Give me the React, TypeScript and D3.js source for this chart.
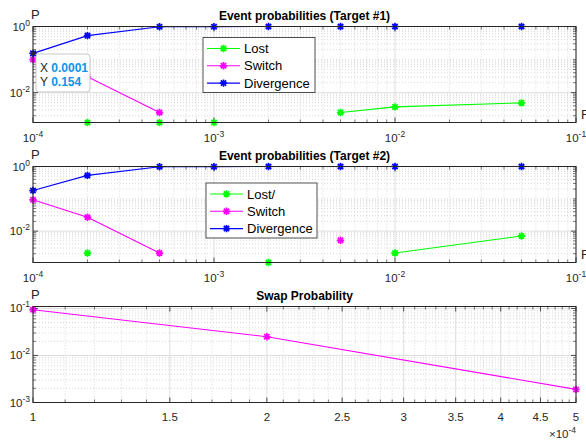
import * as d3 from 'd3';

// threshold values shared by the two "event" panels
const thresholds = [1e-4, 2e-4, 5e-4, 1e-3, 2e-3, 5e-3, 1e-2, 5e-2];

// Target #1
const lost1 = [NaN, 0.00125, 0.00125, 0.00125, NaN, 0.0025, 0.0037, 0.0049];
const switch1 = [0.1, 0.03, 0.0025, NaN, NaN, NaN, NaN, NaN];
const diverg1 = [0.154, 0.53, 0.98, 0.99, 1, 1, 1, 1];

// Target #2
const lost2 = [NaN, 0.0021, NaN, NaN, 0.00107, NaN, 0.0021, 0.0071];
const switch2 = [0.093, 0.027, 0.0021, NaN, NaN, 0.0052, NaN, NaN];
const diverg2 = [0.18, 0.53, 0.98, 0.99, 1, 1, 1, 1];

// swap panel
const swapX = [1e-4, 2e-4, 5e-4];
const swapP = [0.094, 0.025, 0.0019];
const swapTicks = [1, 1.5, 2, 2.5, 3, 3.5, 4, 4.5, 5];

const W = 586, H = 441;
const L = 33, R = 576;
const FONT = '"Liberation Sans", Arial, Helvetica, sans-serif';
const AX = '#262626';
const GRID = '#dedede';
const MINOR = '#c0c0c0';

const GREEN = '#00ff00', MAGENTA = '#ff00ff', BLUE = '#0000ff';

function Star({ x, y, color }: { x: number; y: number; color: string }) {
  const r = 3.7, d = r * 0.72;
  return (
    <path
      d={`M${x - r},${y}H${x + r}M${x},${y - r}V${y + r}M${x - d},${y - d}L${x + d},${y + d}M${x - d},${y + d}L${x + d},${y - d}`}
      stroke={color}
      strokeWidth={1.7}
      fill="none"
    />
  );
}

function Pow({ x, y, exp, anchor }: { x: number; y: number; exp: number; anchor: 'middle' | 'end' }) {
  return (
    <text x={x} y={y} textAnchor={anchor} fontSize={11.5} fill={AX} fontFamily={FONT}>
      10<tspan dy={-5} fontSize={8.5}>{exp}</tspan>
    </text>
  );
}

function minorsLog(lo: number, hi: number) {
  const out: number[] = [];
  for (let e = Math.floor(Math.log10(lo)); e <= Math.ceil(Math.log10(hi)); e++) {
    for (let m = 1; m <= 9; m++) {
      const v = m * Math.pow(10, e);
      if (v > lo * 1.0001 && v < hi * 0.9999) out.push(v);
    }
  }
  return out;
}

interface Series { vals: number[]; color: string; }

function EventPanel({ top, yMin, title, series, legend, legendBox }: {
  top: number; yMin: number; title: string; series: Series[];
  legend: string[]; legendBox: { x: number; y: number; w: number; h: number };
}) {
  const bottom = top + 96;
  const x = d3.scaleLog().domain([1e-4, 1e-1]).range([L, R]);
  const y = d3.scaleLog().domain([yMin, 1]).range([bottom, top]);
  const xMajor = [1e-4, 1e-3, 1e-2, 1e-1];
  const xMinor = minorsLog(1e-4, 1e-1).filter(v => !xMajor.some(m => Math.abs(m - v) / m < 1e-6));
  const yMajor = [1e-2, 1];
  const yMinor = minorsLog(yMin, 1).filter(v => !yMajor.some(m => Math.abs(m - v) / m < 1e-6));
  const line = d3.line<number>()
    .defined(d => !isNaN(d))
    .x((_, i) => x(thresholds[i]))
    .y(d => y(d));
  return (
    <g>
      {xMinor.map((v, i) => (
        <line key={'xm' + i} x1={x(v)} x2={x(v)} y1={top} y2={bottom} stroke={MINOR} strokeWidth={0.6} strokeDasharray="1 2" />
      ))}
      {yMinor.map((v, i) => (
        <line key={'ym' + i} x1={L} x2={R} y1={y(v)} y2={y(v)} stroke={MINOR} strokeWidth={0.6} strokeDasharray="1 2" />
      ))}
      {xMajor.map((v, i) => (
        <line key={'xg' + i} x1={x(v)} x2={x(v)} y1={top} y2={bottom} stroke={GRID} strokeWidth={1} />
      ))}
      {yMajor.map((v, i) => (
        <line key={'yg' + i} x1={L} x2={R} y1={y(v)} y2={y(v)} stroke={GRID} strokeWidth={1} />
      ))}
      {/* ticks */}
      {xMinor.map((v, i) => (
        <g key={'xt' + i} stroke={AX} strokeWidth={0.6}>
          <line x1={x(v)} x2={x(v)} y1={bottom} y2={bottom - 3} />
          <line x1={x(v)} x2={x(v)} y1={top} y2={top + 3} />
        </g>
      ))}
      {xMajor.map((v, i) => (
        <g key={'xT' + i} stroke={AX} strokeWidth={0.8}>
          <line x1={x(v)} x2={x(v)} y1={bottom} y2={bottom - 5} />
          <line x1={x(v)} x2={x(v)} y1={top} y2={top + 5} />
        </g>
      ))}
      {yMinor.map((v, i) => (
        <g key={'yt' + i} stroke={AX} strokeWidth={0.6}>
          <line x1={L} x2={L + 3} y1={y(v)} y2={y(v)} />
          <line x1={R} x2={R - 3} y1={y(v)} y2={y(v)} />
        </g>
      ))}
      {yMajor.map((v, i) => (
        <g key={'yT' + i} stroke={AX} strokeWidth={0.8}>
          <line x1={L} x2={L + 5} y1={y(v)} y2={y(v)} />
          <line x1={R} x2={R - 5} y1={y(v)} y2={y(v)} />
        </g>
      ))}
      {series.map((s, si) => (
        <g key={'s' + si}>
          <path d={line(s.vals) || ''} fill="none" stroke={s.color} strokeWidth={1.1} />
          {s.vals.map((v, i) => isNaN(v) ? null : <Star key={i} x={x(thresholds[i])} y={y(v)} color={s.color} />)}
        </g>
      ))}
      <rect x={L} y={top} width={R - L} height={bottom - top} fill="none" stroke={AX} strokeWidth={1} />
      {xMajor.map((v, i) => (
        <Pow key={'xl' + i} x={x(v)} y={bottom + 19} exp={Math.round(Math.log10(v))} anchor="middle" />
      ))}
      {yMajor.map((v, i) => (
        <Pow key={'yl' + i} x={L - 3} y={y(v) + 4} exp={Math.round(Math.log10(v))} anchor="end" />
      ))}
      <text x={L - 2} y={top - 8} fontSize={13} fontFamily={FONT} fill={AX}>P</text>
      <text x={581} y={bottom - 4} fontSize={13} fontFamily={FONT} fill={AX}>F</text>
      <text x={(L + R) / 2} y={top - 7} textAnchor="middle" fontSize={12} fontWeight="bold" fontFamily={FONT} fill="#000">{title}</text>
      {/* legend */}
      <rect x={legendBox.x} y={legendBox.y} width={legendBox.w} height={legendBox.h} fill="#fff" stroke={AX} strokeWidth={0.8} />
      {legend.map((name, i) => {
        const ly = legendBox.y + 11 + i * 17.3;
        const lx = legendBox.x + 4;
        return (
          <g key={'lg' + i}>
            <line x1={lx} x2={lx + 33} y1={ly} y2={ly} stroke={series[i].color} strokeWidth={1.1} />
            <Star x={lx + 16.5} y={ly} color={series[i].color} />
            <text x={lx + 37} y={ly + 4.5} fontSize={13} fontFamily={FONT} fill="#000">{name}</text>
          </g>
        );
      })}
    </g>
  );
}

function SwapPanel({ top }: { top: number }) {
  const bottom = top + 96;
  const x = d3.scaleLog().domain([1e-4, 5e-4]).range([L, R]);
  const y = d3.scaleLog().domain([1e-3, 0.11]).range([bottom, top]);
  const xMajor = swapTicks.map(t => t * 1e-4);
  const xMinor: number[] = [];
  for (let k = 11; k < 50; k++) if (k % 5 !== 0) xMinor.push(k * 1e-5);
  const yMajor = [1e-3, 1e-2, 1e-1];
  const yMinor = minorsLog(1e-3, 0.11).filter(v => !yMajor.some(m => Math.abs(m - v) / m < 1e-6));
  const line = d3.line<number>().x((_, i) => x(swapX[i])).y(d => y(d));
  return (
    <g>
      {xMinor.map((v, i) => (
        <line key={'xm' + i} x1={x(v)} x2={x(v)} y1={top} y2={bottom} stroke={MINOR} strokeWidth={0.6} strokeDasharray="1 2" />
      ))}
      {yMinor.map((v, i) => (
        <line key={'ym' + i} x1={L} x2={R} y1={y(v)} y2={y(v)} stroke={MINOR} strokeWidth={0.6} strokeDasharray="1 2" />
      ))}
      {xMajor.map((v, i) => (
        <line key={'xg' + i} x1={x(v)} x2={x(v)} y1={top} y2={bottom} stroke={GRID} strokeWidth={1} />
      ))}
      {yMajor.map((v, i) => (
        <line key={'yg' + i} x1={L} x2={R} y1={y(v)} y2={y(v)} stroke={GRID} strokeWidth={1} />
      ))}
      {xMinor.map((v, i) => (
        <g key={'xt' + i} stroke={AX} strokeWidth={0.6}>
          <line x1={x(v)} x2={x(v)} y1={bottom} y2={bottom - 3} />
          <line x1={x(v)} x2={x(v)} y1={top} y2={top + 3} />
        </g>
      ))}
      {xMajor.map((v, i) => (
        <g key={'xT' + i} stroke={AX} strokeWidth={0.8}>
          <line x1={x(v)} x2={x(v)} y1={bottom} y2={bottom - 5} />
          <line x1={x(v)} x2={x(v)} y1={top} y2={top + 5} />
        </g>
      ))}
      {yMinor.map((v, i) => (
        <g key={'yt' + i} stroke={AX} strokeWidth={0.6}>
          <line x1={L} x2={L + 3} y1={y(v)} y2={y(v)} />
          <line x1={R} x2={R - 3} y1={y(v)} y2={y(v)} />
        </g>
      ))}
      {yMajor.map((v, i) => (
        <g key={'yT' + i} stroke={AX} strokeWidth={0.8}>
          <line x1={L} x2={L + 5} y1={y(v)} y2={y(v)} />
          <line x1={R} x2={R - 5} y1={y(v)} y2={y(v)} />
        </g>
      ))}
      <path d={line(swapP) || ''} fill="none" stroke={MAGENTA} strokeWidth={1.1} />
      {swapP.map((v, i) => <Star key={i} x={x(swapX[i])} y={y(v)} color={MAGENTA} />)}
      <rect x={L} y={top} width={R - L} height={bottom - top} fill="none" stroke={AX} strokeWidth={1} />
      {swapTicks.map((t, i) => (
        <text key={'xl' + i} x={x(t * 1e-4)} y={bottom + 18} textAnchor="middle" fontSize={11.5} fontFamily={FONT} fill={AX}>{String(t)}</text>
      ))}
      {yMajor.map((v, i) => (
        <Pow key={'yl' + i} x={L - 3} y={y(v) + 4} exp={Math.round(Math.log10(v))} anchor="end" />
      ))}
      <text x={R} y={bottom + 35} textAnchor="end" fontSize={11.5} fontFamily={FONT} fill={AX}>
        ×10<tspan dy={-5} fontSize={8.5}>-4</tspan>
      </text>
      <text x={L - 2} y={top - 8} fontSize={13} fontFamily={FONT} fill={AX}>P</text>
      <text x={(L + R) / 2} y={top - 7} textAnchor="middle" fontSize={12} fontWeight="bold" fontFamily={FONT} fill="#000">Swap Probability</text>
    </g>
  );
}

function DataTip() {
  const x = d3.scaleLog().domain([1e-4, 1e-1]).range([L, R]);
  const y = d3.scaleLog().domain([0.00125, 1]).range([122.5, 26.5]);
  const px = x(thresholds[0]), py = y(diverg1[0]);
  return (
    <g fontFamily={FONT} fontSize={12}>
      <rect x={36} y={54} width={54} height={38} rx={3} fill="#fff" fillOpacity={0.95} stroke="#c8c8c8" strokeWidth={1} />
      <text x={40} y={72} fill="#262626">X <tspan fill="#0a94ea" fontWeight="bold">0.0001</tspan></text>
      <text x={40} y={86} fill="#262626">Y <tspan fill="#0a94ea" fontWeight="bold">{diverg1[0]}</tspan></text>
      <circle cx={px} cy={py} r={2.3} fill="#262626" />
    </g>
  );
}

export default function App() {
  return (
    <svg width={W} height={H} style={{ position: 'absolute', left: 0, top: 0, background: '#fff' }}>
      <EventPanel
        top={26.5}
        yMin={0.00125}
        title="Event probabilities (Target #1)"
        series={[{ vals: lost1, color: GREEN }, { vals: switch1, color: MAGENTA }, { vals: diverg1, color: BLUE }]}
        legend={['Lost', 'Switch', 'Divergence']}
        legendBox={{ x: 203, y: 37.5, w: 112, h: 55 }}
      />
      <EventPanel
        top={166.5}
        yMin={0.00107}
        title="Event probabilities (Target #2)"
        series={[{ vals: lost2, color: GREEN }, { vals: switch2, color: MAGENTA }, { vals: diverg2, color: BLUE }]}
        legend={['Lost/', 'Switch', 'Divergence']}
        legendBox={{ x: 206, y: 183, w: 111, h: 55 }}
      />
      <SwapPanel top={306.5} />
      <DataTip />
    </svg>
  );
}
